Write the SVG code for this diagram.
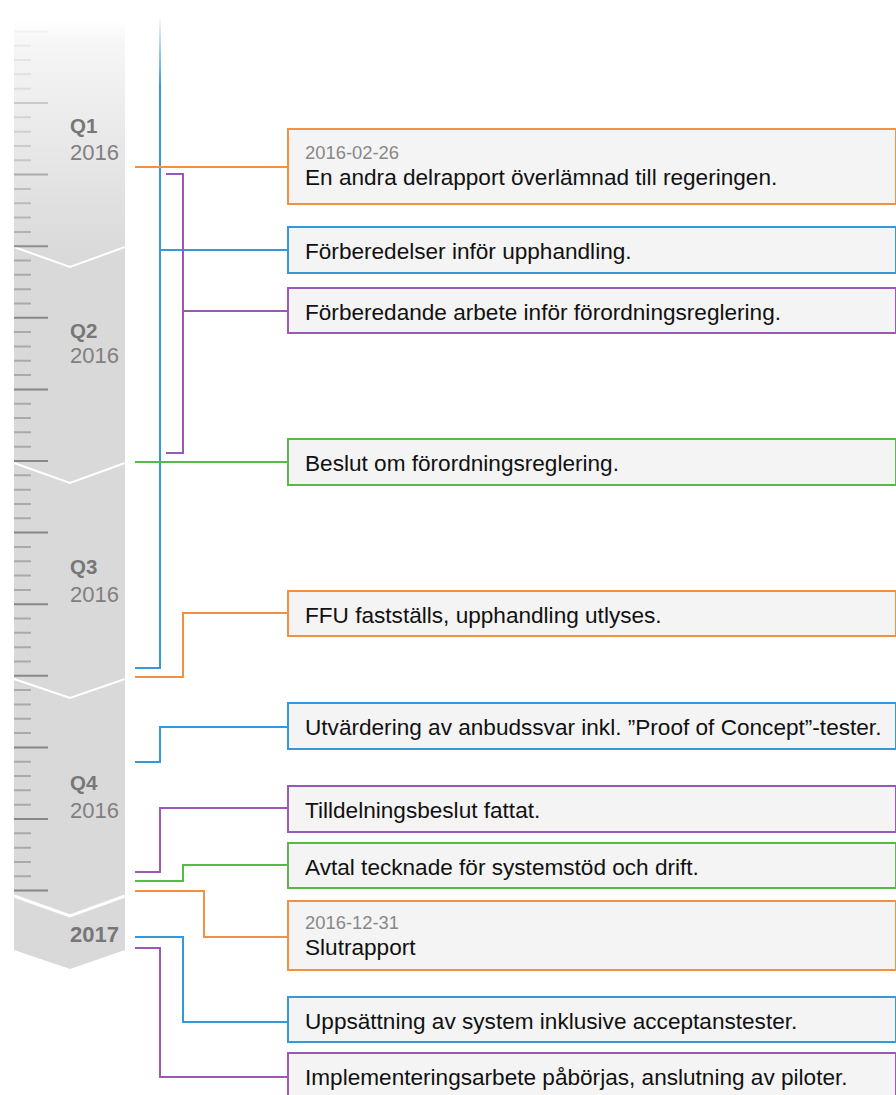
<svg xmlns="http://www.w3.org/2000/svg" width="896" height="1095" viewBox="0 0 896 1095">
<defs>
<linearGradient id="fade" gradientUnits="userSpaceOnUse" x1="0" y1="0" x2="0" y2="260">
<stop offset="0.08" stop-color="#fff" stop-opacity="1"/>
<stop offset="0.17" stop-color="#fff" stop-opacity="0.75"/>
<stop offset="1" stop-color="#fff" stop-opacity="0"/>
</linearGradient>
<linearGradient id="bluefade" gradientUnits="userSpaceOnUse" x1="0" y1="15" x2="0" y2="88">
<stop offset="0" stop-color="#3498db" stop-opacity="0"/>
<stop offset="1" stop-color="#3498db" stop-opacity="1"/>
</linearGradient>
<style>
.band{fill:#d9d9d9}
.sep{fill:none;stroke:#fff;stroke-width:2}
.tick-s{fill:none;stroke:#aaa;stroke-width:2}
.tick-l{fill:none;stroke:#888;stroke-width:2}
.q{font-family:"Liberation Sans",Arial,sans-serif;font-weight:bold;font-size:20.5px;fill:#777}
.yr{font-family:"Liberation Sans",Arial,sans-serif;font-size:22px;fill:#808080}
.yrb{font-family:"Liberation Sans",Arial,sans-serif;font-weight:bold;font-size:22px;fill:#777}
.c{fill:none;stroke-width:2}
.or{stroke:#f29141}.bl{stroke:#3498db}.pu{stroke:#9b59b6}.gr{stroke:#58b84a}
.box{fill:#f4f4f4;stroke-width:2}
.t{font-family:"Liberation Sans",Arial,sans-serif;font-size:22.6px;fill:#111}
.d{font-family:"Liberation Sans",Arial,sans-serif;font-size:18.4px;fill:#888}
</style>
</defs>
<g id="ruler">
<polygon class="band" points="14,0 125,0 125,950 70,969 14,950"/>
<polyline class="sep" points="14,247 70,267 125,247"/>
<polyline class="sep" points="14,463 70,483 125,463"/>
<polyline class="sep" points="14,679 70,698 125,679"/>
<polyline class="sep" style="stroke-width:3" points="14,896 70,916 125,896"/>
<path class="tick-s" d="M14,45.72h17M14,60.04h17M14,74.36h17M14,88.68h17M14,117.32h17M14,131.64h17M14,145.96h17M14,160.28h17M14,188.92h17M14,203.24h17M14,217.56h17M14,231.88h17M14,260.52h17M14,274.84h17M14,289.16h17M14,303.48h17M14,332.12h17M14,346.44h17M14,360.76h17M14,375.08h17M14,403.72h17M14,418.04h17M14,432.36h17M14,446.68h17M14,475.32h17M14,489.64h17M14,503.96h17M14,518.28h17M14,546.92h17M14,561.24h17M14,575.56h17M14,589.88h17M14,618.52h17M14,632.84h17M14,647.16h17M14,661.48h17M14,690.12h17M14,704.44h17M14,718.76h17M14,733.08h17M14,761.72h17M14,776.04h17M14,790.36h17M14,804.68h17M14,833.32h17M14,847.64h17M14,861.96h17M14,876.28h17"/>
<path class="tick-l" d="M14,31.4h34M14,103h34M14,174.6h34M14,246.2h34M14,317.8h34M14,389.4h34M14,461h34M14,532.6h34M14,604.2h34M14,675.8h34M14,747.4h34M14,819h34M14,890.6h34"/>
<rect x="0" y="0" width="130" height="260" fill="url(#fade)"/>
<text class="q" x="70" y="133">Q1</text><text class="yr" x="70" y="160">2016</text>
<text class="q" x="70" y="338">Q2</text><text class="yr" x="70" y="363">2016</text>
<text class="q" x="70" y="574">Q3</text><text class="yr" x="70" y="602">2016</text>
<text class="q" x="70" y="790">Q4</text><text class="yr" x="70" y="818">2016</text>
<text class="yrb" x="70" y="942">2017</text>
</g>
<g id="connectors">
<path class="c" stroke="url(#bluefade)" d="M160,15V88"/>
<path class="c bl" d="M160,87V668H135"/>
<path class="c or" d="M135,167H288"/>
<path class="c bl" d="M160,250H288"/>
<path class="c pu" d="M166,174H183V453H166M183,311H288"/>
<path class="c gr" d="M135,462H288"/>
<path class="c or" d="M135,677H183V613H288"/>
<path class="c bl" d="M135,762H160V727H288"/>
<path class="c pu" d="M135,872H160V808H288"/>
<path class="c gr" d="M135,881H183V865H288"/>
<path class="c or" d="M135,891H204V937H288"/>
<path class="c bl" d="M135,937H183V1022H288"/>
<path class="c pu" d="M135,948H160V1077H288"/>
</g>
<g id="n1"><rect class="box or" x="288" y="129" width="608" height="75"/><text class="d" x="305" y="159">2016-02-26</text><text class="t" x="305" y="185">En andra delrapport överlämnad till regeringen.</text></g>
<g id="n2"><rect class="box bl" x="288" y="227" width="608" height="46"/><text class="t" x="305" y="259">Förberedelser inför upphandling.</text></g>
<g id="n3"><rect class="box pu" x="288" y="288" width="608" height="45"/><text class="t" x="305" y="319.5">Förberedande arbete inför förordningsreglering.</text></g>
<g id="n4"><rect class="box gr" x="288" y="439" width="608" height="46"/><text class="t" x="305" y="471">Beslut om förordningsreglering.</text></g>
<g id="n5"><rect class="box or" x="288" y="591" width="608" height="45"/><text class="t" x="305" y="622.5">FFU fastställs, upphandling utlyses.</text></g>
<g id="n6"><rect class="box bl" x="288" y="703" width="608" height="46"/><text class="t" x="305" y="735">Utvärdering av anbudssvar inkl. ”Proof of Concept”-tester.</text></g>
<g id="n7"><rect class="box pu" x="288" y="786" width="608" height="46"/><text class="t" x="305" y="818">Tilldelningsbeslut fattat.</text></g>
<g id="n8"><rect class="box gr" x="288" y="843" width="608" height="45"/><text class="t" x="305" y="874.5">Avtal tecknade för systemstöd och drift.</text></g>
<g id="n9"><rect class="box or" x="288" y="901" width="608" height="69"/><text class="d" x="305" y="929">2016-12-31</text><text class="t" x="305" y="955">Slutrapport</text></g>
<g id="n10"><rect class="box bl" x="288" y="997" width="608" height="45"/><text class="t" x="305" y="1028.5">Uppsättning av system inklusive acceptanstester.</text></g>
<g id="n11"><rect class="box pu" x="288" y="1053" width="608" height="46"/><text class="t" x="305" y="1085">Implementeringsarbete påbörjas, anslutning av piloter.</text></g>
</svg>
